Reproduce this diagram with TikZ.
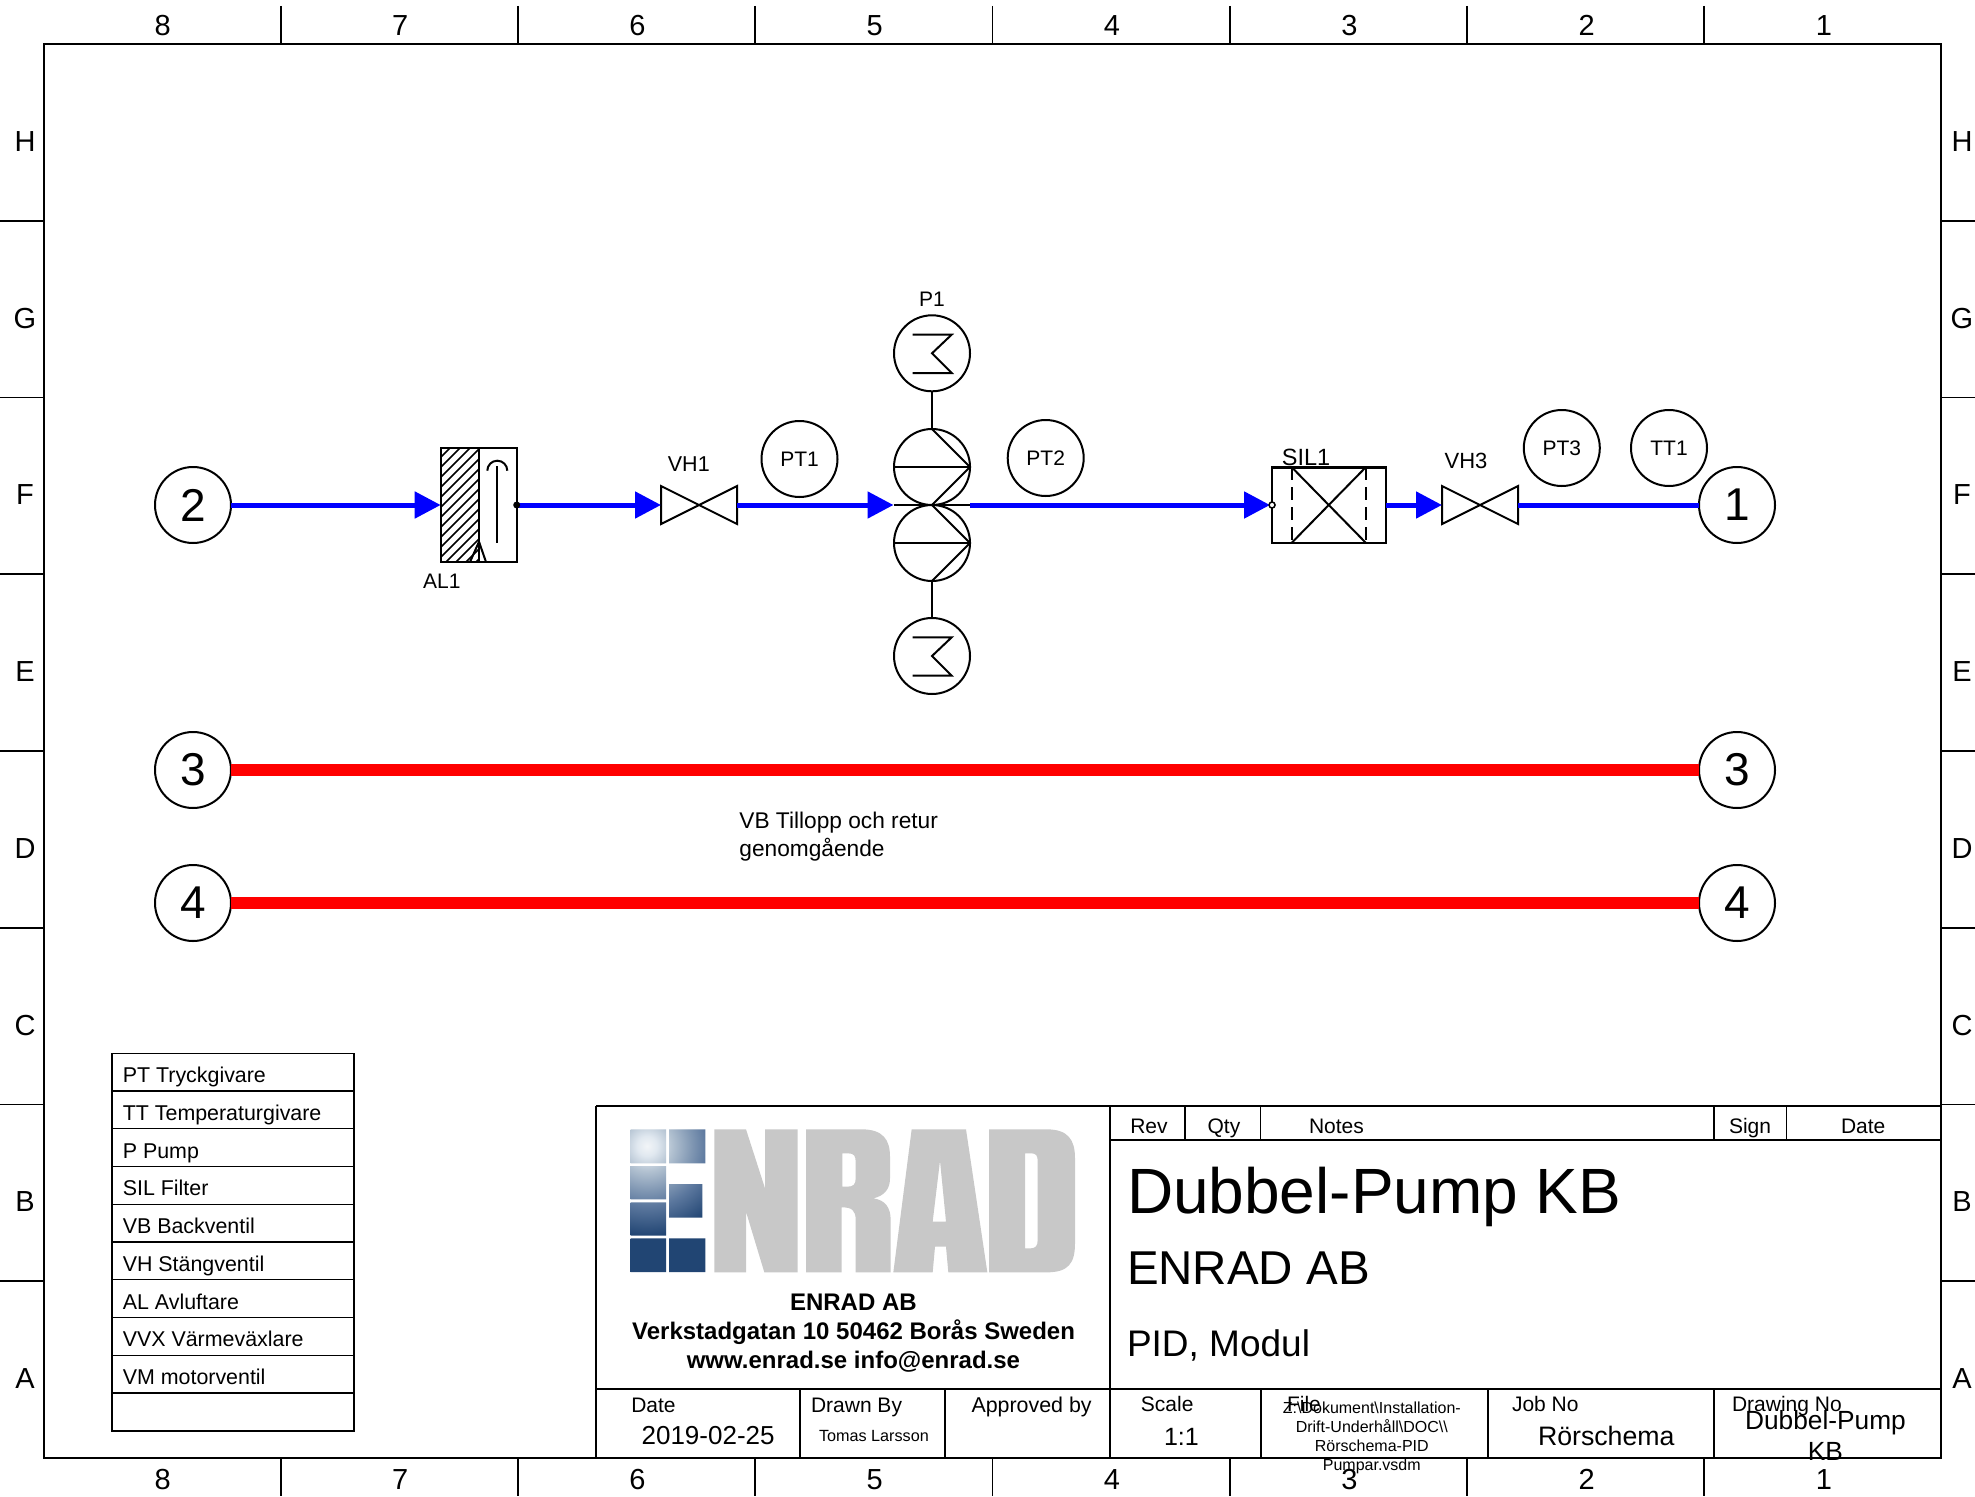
\documentclass[tikz,border=0pt]{standalone}
\usepackage{fontspec}
\setmainfont{Liberation Sans}
\usetikzlibrary{arrows.meta}
\newcommand{\fsz}[1]{\fontsize{#1}{#1}\selectfont}
\pgfdeclareradialshading{enradglow}{\pgfpointorigin}{%
  rgb(0bp)=(0.95,0.96,0.97);
  rgb(1.25bp)=(0.88,0.91,0.94);
  rgb(3.125bp)=(0.70,0.76,0.82);
  rgb(5.625bp)=(0.50,0.59,0.70);
  rgb(7.5bp)=(0.36,0.47,0.62);
  rgb(11.25bp)=(0.13,0.27,0.45);
  rgb(50bp)=(0.12,0.26,0.45)}
\definecolor{logogrey}{RGB}{200,200,200}
\tikzset{
  line/.style={line width=2pt,black},
  rule/.style={line width=1.8pt,black},
  thinrule/.style={line width=1.3pt,black},
  heavy/.style={line width=2.3pt,black},
  txt/.style={inner sep=0pt,outer sep=0pt,anchor=base west,font=\fsz{21}},
  ctxt/.style={inner sep=0pt,outer sep=0pt,anchor=base,font=\fsz{21}},
  edge/.style={inner sep=0pt,outer sep=0pt,anchor=base,font=\fsz{29}},
  instr/.style={circle,draw,line width=2pt,minimum size=76pt,inner sep=0pt,outer sep=0pt,font=\fsz{21}},
  port/.style={instr,font=\fsz{46}},
  valvebox/.style={rectangle,minimum width=76pt,minimum height=38pt,inner sep=0pt,outer sep=0pt},
  box/.style={rectangle,draw,line width=2pt,inner sep=0pt,outer sep=0pt},
  pipe/.style={draw=blue,line width=5pt},
  flow/.style={pipe,-{Triangle[length=26pt,width=26pt,fill=blue,color=blue]}},
  hot/.style={draw=red,line width=12pt},
  logofill/.style={fill=logogrey,even odd rule},
}
\begin{document}
\begin{tikzpicture}[x=1pt,y=-1pt]
\useasboundingbox (0,0) rectangle (1975,1496);
\fill[white] (0,0) rectangle (1975,1496);
% frame
\draw[line] (44,44) rectangle (1941,1458);
\foreach \i in {1,...,7}{
  \draw[rule] ({44+237.125*\i},6) -- ({44+237.125*\i},44);
  \draw[rule] ({44+237.125*\i},1458) -- ({44+237.125*\i},1496);
  \draw[rule] (0,{44+176.75*\i}) -- (44,{44+176.75*\i});
  \draw[rule] (1941,{44+176.75*\i}) -- (1975,{44+176.75*\i});
}
\foreach \n [count=\i] in {8,7,6,5,4,3,2,1}{
  \node[edge] (top\n) at ({162.8+237.3*(\i-1)},35.5) {\n};
  \node[edge] (bot\n) at ({162.8+237.3*(\i-1)},1489) {\n};
}
\foreach \n [count=\i] in {H,G,F,E,D,C,B,A}{
  \node[edge] (left\n) at (25,{151.5+176.7*(\i-1)}) {\n};
  \node[edge] (right\n) at (1962,{151.5+176.7*(\i-1)}) {\n};
}
% ports
\node[port] (c2) at (193,505) {2};
\node[port] (c1) at (1737,505) {1};
\node[port] (c3) at (193,770) {3};
\node[port] (c3r) at (1737,770) {3};
\node[port] (c4) at (193,903) {4};
\node[port] (c4r) at (1737,903) {4};
\draw[hot] (c3) -- (c3r);
\draw[hot] (c4) -- (c4r);
% instruments
\node[instr] (pt1) at (799.5,459) {PT1};
\node[instr] (pt2) at (1045.7,458) {PT2};
\node[instr] (pt3) at (1561.8,448) {PT3};
\node[instr] (tt1) at (1669,448) {TT1};
% deaerator
\node[box,minimum width=76pt,minimum height=114pt] (al1) at (478.7,505) {};
\begin{scope}
  \clip (440.7,448) rectangle (478.8,562);
  \foreach \c in {430,440,...,600}{
    \draw[line width=1.5pt] (\c,448) -- (\c-114,562);
  }
\end{scope}
\draw[line] (478.8,448) -- (478.8,562);
\draw[line] (470,562) -- (479,541.7) -- (486,562);
\draw[line] (487.3,470.7) arc[start angle=180,end angle=0,radius=10pt];
\draw[line] (497.3,466) -- (497.3,543);
\node[ctxt] (al1t) at (441.9,588) {AL1};
% valves
\node[valvebox] (vh1) at (699,505) {};
\draw[line] (vh1.north west) -- (vh1.south east) -- (vh1.north east) -- (vh1.south west) -- cycle;
\node[ctxt,font=\fsz{21.5}] (vh1t) at (688.8,471) {VH1};
\node[valvebox] (vh3) at (1480,505) {};
\draw[line] (vh3.north west) -- (vh3.south east) -- (vh3.north east) -- (vh3.south west) -- cycle;
\node[ctxt,font=\fsz{22}] (vh3t) at (1466,468) {VH3};
% pumps
\node[circle,draw,line width=2pt,minimum size=76pt,inner sep=0pt,outer sep=0pt] (m1) at (932,353.3) {};
\node[circle,draw,line width=2pt,minimum size=76pt,inner sep=0pt,outer sep=0pt] (p1) at (932,467) {};
\node[circle,draw,line width=2pt,minimum size=76pt,inner sep=0pt,outer sep=0pt] (p2) at (932,543) {};
\node[circle,draw,line width=2pt,minimum size=76pt,inner sep=0pt,outer sep=0pt] (m2) at (932,656) {};
\draw[line] (m1) -- (p1);
\draw[line] (p2) -- (m2);
\foreach \m in {m1,m2}{
  \draw[line,line join=miter] (\m) ++(-19.3,-18.7) -- ++(39,0) -- ++(-19.7,18.7) -- ++(19.7,19.7) -- ++(-39,0);
}
\foreach \p in {p1,p2}{
  \draw[line] (\p.west) -- (\p.east);
  \draw[line] (\p.north) -- (\p.east) -- (\p.south);
}
\coordinate (pumpin) at (893.5,505);
\coordinate (pumpout) at (970,505);
\draw[line] (pumpin) -- (pumpout);
\node[ctxt] (p1t) at (932,306) {P1};
% filter
\node[box,line width=2.4pt,minimum width=113.7pt,minimum height=75.4pt] (sil) at (1328.9,505) {};
\draw[line] (1291.8,467.3) -- (1365.7,542.7);
\draw[line] (1365.7,467.3) -- (1291.8,542.7);
\draw[line,dash pattern=on 13pt off 7pt] (1291.8,467.3) -- (1291.8,542.7);
\draw[line,dash pattern=on 13pt off 7pt] (1365.7,467.3) -- (1365.7,542.7);
\node[ctxt,font=\fsz{23.5}] (silt) at (1306,465.5) {SIL1};
% pipes
\draw[flow] (c2) -- (al1.west);
\draw[flow] (al1.east) -- (vh1.west);
\draw[flow] (vh1.east) -- (pumpin);
\draw[flow,shorten >=2pt] (pumpout) -- (sil.west);
\draw[flow] (sil.east) -- (vh3.west);
\draw[pipe] (vh3.east) -- (c1);
\fill[black] (al1.east) circle[radius=3.5pt];
\draw[line width=1.5pt,fill=white] (sil.west) circle[radius=3pt];
% note
\node[txt,font=\fsz{22.7}] (vbnote1) at (739.4,828.5) {VB Tillopp och retur};
\node[txt,font=\fsz{22.7}] (vbnote2) at (739.4,856) {genomgående};
% legend
\draw[line width=1.6pt] (111.7,1053.3) rectangle (354,1430.7);
\foreach \k in {1,...,9}{
  \draw[thinrule] (111.7,{1053.3+37.74*\k}) -- (354,{1053.3+37.74*\k});
}
\draw[heavy] (111.7,1430.7) -- (354,1430.7);
\foreach \t [count=\i] in {PT Tryckgivare,TT Temperaturgivare,P Pump,SIL Filter,VB Backventil,VH Stängventil,AL Avluftare,VVX Värmeväxlare,VM motorventil}{
  \node[txt,font=\fsz{21.4}] (leg\i) at (122.8,{1082.6+37.74*(\i-1)}) {\t};
}
% title block
\draw[heavy] (596,1105.7) -- (1941,1105.7);
\draw[line] (596,1105.7) -- (596,1458);
\draw[line] (1109.5,1105.7) -- (1109.5,1458);
\draw[line] (596,1389.3) -- (1941,1389.3);
\draw[heavy] (1109.5,1140) -- (1941,1140);
\foreach \x in {1185,1260.5,1714,1786.4}{ \draw[rule] (\x,1105.7) -- (\x,1140); }
\foreach \x in {800,944.7,1260.7,1487.8,1713.8}{ \draw[line] (\x,1389.3) -- (\x,1458); }
\node[txt] (trev) at (1130.3,1133) {Rev};
\node[txt] (tqty) at (1207.6,1133) {Qty};
\node[txt] (tnotes) at (1309,1133) {Notes};
\node[txt] (tsign) at (1729,1133) {Sign};
\node[txt] (tdate) at (1841,1133) {Date};
\node[txt,font=\fsz{64}] (title) at (1127,1213.3) {Dubbel-Pump KB};
\node[txt,font=\fsz{47.5}] (company) at (1127,1284.3) {ENRAD AB};
\node[txt,font=\fsz{37}] (pid) at (1127,1356) {PID, Modul};
\node[ctxt,font=\fsz{24}\bfseries] (addr1) at (853.4,1310) {ENRAD AB};
\node[ctxt,font=\fsz{24}\bfseries] (addr2) at (853.6,1339) {Verkstadgatan 10 50462 Borås Sweden};
\node[ctxt,font=\fsz{24}\bfseries] (addr3) at (853.4,1368) {www.enrad.se info@enrad.se};
\node[txt] (ldate) at (631.3,1412.7) {Date};
\node[txt,font=\fsz{26}] (vdate) at (641.6,1444.3) {2019-02-25};
\node[txt] (ldrawn) at (811,1412.7) {Drawn By};
\node[txt,font=\fsz{16.2}] (vdrawn) at (819,1441) {Tomas Larsson};
\node[txt,font=\fsz{21.4}] (lappr) at (971.5,1412.7) {Approved by};
\node[txt] (lscale) at (1140.9,1411.7) {Scale};
\node[txt,font=\fsz{25}] (vscale) at (1164,1445) {1:1};
\node[txt] (lfile) at (1287,1411.7) {File};
\node[ctxt,font=\fsz{16}] (path1) at (1371.8,1413) {Z:\textbackslash Dokument\textbackslash Installation-};
\node[ctxt,font=\fsz{16}] (path2) at (1371.8,1432.5) {Drift-Underhåll\textbackslash DOC\textbackslash\textbackslash};
\node[ctxt,font=\fsz{16}] (path3) at (1371.8,1451) {Rörschema-PID};
\node[ctxt,font=\fsz{16}] (path4) at (1371.8,1470) {Pumpar.vsdm};
\node[txt] (ljob) at (1512,1411.7) {Job No};
\node[txt,font=\fsz{26.7}] (vjob) at (1538,1445) {Rörschema};
\node[txt] (ldraw) at (1732,1411.7) {Drawing No};
\node[ctxt,font=\fsz{26.3}] (vdraw1) at (1825.4,1429.3) {Dubbel-Pump};
\node[ctxt,font=\fsz{26.3}] (vdraw2) at (1825.4,1460.7) {KB};
% logo squares
\begin{scope}
  \clip (630.7,1129.3) rectangle (666,1163.3)
        (669,1129.3) rectangle (705.3,1163.3)
        (630.7,1166) rectangle (666,1199.3)
        (669,1184) rectangle (702.3,1217.7)
        (630.7,1202.3) rectangle (666,1235.7)
        (630.7,1238.3) rectangle (666,1272)
        (669,1238.3) rectangle (705.3,1272);
  \shade[shading=enradglow] (647,1146) circle[radius=200pt];
\end{scope}
% logo letters N R
\begin{scope}[shift={(710,1120)},x=0.33333pt,y=-0.33333pt]
  \fill[logofill] (13,28) -- (108,28) -- (165,205) -- (165,28) -- (263,28) -- (263,457) -- (163,457) -- (108,275) -- (108,457) -- (13,457) -- cycle;
  \fill[logofill] (288,28) -- (455,28) .. controls (520,28) and (540,60) .. (540,110) -- (540,175) .. controls (540,210) and (520,228) .. (490,235) .. controls (525,240) and (542,262) .. (542,300) -- (542,457) -- (437,457) -- (437,300) .. controls (437,270) and (425,262) .. (395,262) -- (395,457) -- (288,457) -- cycle
     (397,100) -- (415,100) .. controls (432,100) and (437,108) .. (437,125) -- (437,175) .. controls (437,193) and (430,200) .. (412,200) -- (397,200) -- cycle;
\end{scope}
% logo letters A D
\begin{scope}[shift={(890,1120)},x=0.33333pt,y=-0.33333pt]
  \fill[logofill] (65,28) -- (228,28) -- (292,457) -- (175,457) -- (168,380) -- (135,380) -- (128,457) -- (10,457) -- cycle
     (150,122) -- (168,305) -- (128,305) -- cycle;
  \fill[logofill] (297,28) -- (470,28) .. controls (535,28) and (555,60) .. (555,115) -- (555,370) .. controls (555,430) and (535,457) .. (470,457) -- (297,457) -- cycle
     (405,100) -- (425,100) .. controls (438,100) and (443,108) .. (443,122) -- (443,360) .. controls (443,378) and (436,385) .. (422,385) -- (405,385) -- cycle;
\end{scope}
\end{tikzpicture}
\end{document}
